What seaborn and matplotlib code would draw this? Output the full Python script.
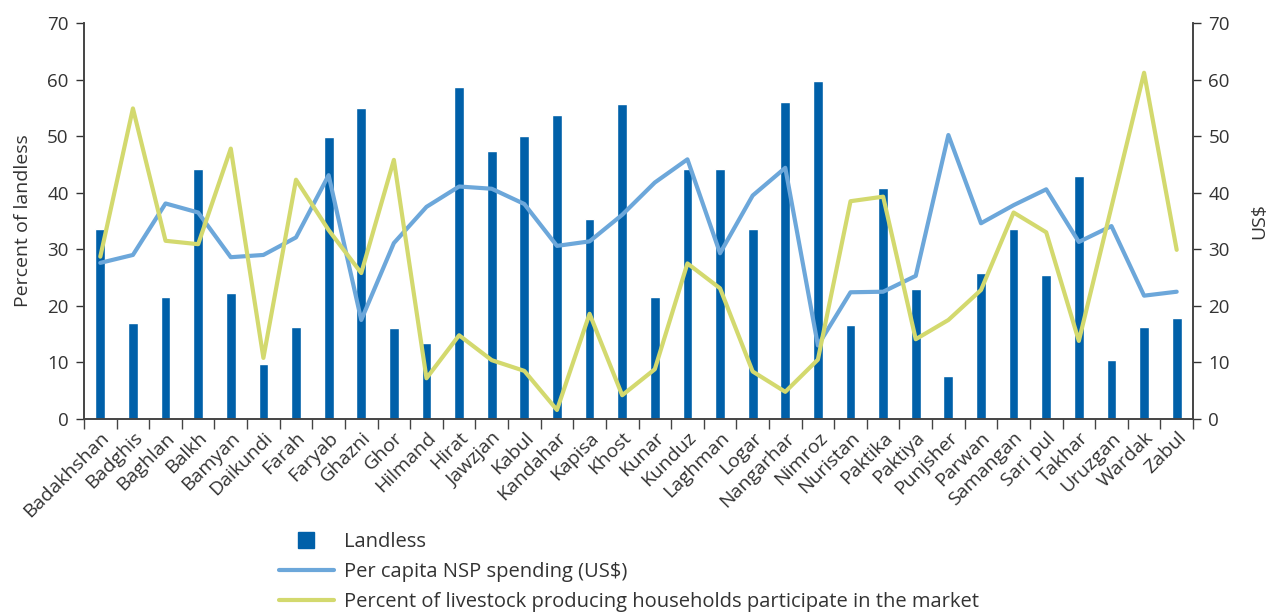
import numpy as np
import pandas as pd
import matplotlib
matplotlib.use("Agg")
import matplotlib.pyplot as plt
from matplotlib.lines import Line2D
import seaborn as sns

provinces = ["Badakhshan", "Badghis", "Baghlan", "Balkh", "Bamyan", "Daikundi", "Farah",
             "Faryab", "Ghazni", "Ghor", "Hilmand", "Hirat", "Jawzjan", "Kabul", "Kandahar",
             "Kapisa", "Khost", "Kunar", "Kunduz", "Laghman", "Logar", "Nangarhar", "Nimroz",
             "Nuristan", "Paktika", "Paktiya", "Punjsher", "Parwan", "Samangan", "Sari pul",
             "Takhar", "Uruzgan", "Wardak", "Zabul"]

landless = [33.6, 17.0, 21.6, 44.2, 22.3, 9.7, 16.3, 49.8, 55.0, 16.1, 13.4, 58.6, 47.4,
            50.1, 53.8, 35.4, 55.7, 21.6, 44.2, 44.2, 33.6, 56.1, 59.8, 16.6, 40.9, 23.0,
            7.6, 25.8, 33.6, 25.5, 43.0, 10.4, 16.3, 17.9]

nsp_spending = [27.6, 29.0, 38.1, 36.5, 28.6, 29.0, 32.1, 43.1, 17.5, 31.1, 37.5, 41.1, 40.7,
                38.0, 30.6, 31.4, 36.1, 41.8, 45.9, 29.3, 39.5, 44.4, 13.0, 22.4, 22.5, 25.3,
                50.2, 34.6, 37.8, 40.6, 31.3, 34.1, 21.8, 22.5]

livestock_market = [28.7, 54.9, 31.5, 30.9, 47.8, 10.8, 42.3, 33.4, 25.8, 45.8, 7.2, 14.8,
                    10.4, 8.5, 1.6, 18.6, 4.2, 8.8, 27.5, 23.1, 8.4, 4.8, 10.5, 38.5, 39.3,
                    14.1, 17.5, 22.8, 36.5, 33.0, 13.8, 37.5, 61.2, 29.9]

bar_color = "#0060A9"
nsp_color = "#6CA7DA"
live_color = "#D3D96E"
text_color = "#333333"

df = pd.DataFrame({"province": provinces, "landless": landless,
                   "nsp": nsp_spending, "livestock": livestock_market,
                   "pos": np.arange(len(provinces))})

sns.set_style("ticks")
plt.rcParams["font.family"] = ["Open Sans", "DejaVu Sans"]
plt.rcParams["text.color"] = text_color
plt.rcParams["axes.labelcolor"] = text_color
plt.rcParams["xtick.color"] = text_color
plt.rcParams["ytick.color"] = text_color

fig = plt.figure(figsize=(12.72, 6.16), dpi=100)
ax = fig.add_axes([84 / 1272, 1 - 419 / 616, (1193 - 84) / 1272, (419 - 23) / 616])

# bars on the left axis
sns.barplot(data=df, x="province", y="landless", color=bar_color, width=0.3,
            saturation=1, ax=ax)

# both lines on the twin axis (same 0-70 scale)
ax2 = ax.twinx()
sns.lineplot(data=df, x="pos", y="nsp", color=nsp_color, linewidth=3, ax=ax2)
sns.lineplot(data=df, x="pos", y="livestock", color=live_color, linewidth=3, ax=ax2)

for a in (ax, ax2):
    a.set_ylim(0, 70)
    a.set_yticks(range(0, 71, 10))
    a.tick_params(axis="y", labelsize=13.5, length=6, width=1, pad=5, colors=text_color)
    a.spines["top"].set_visible(False)
    for s in a.spines.values():
        s.set_color("#444444")
        s.set_linewidth(1.2)

ax.set_xlim(-0.5, len(provinces) - 0.5)
ax.set_xticks(np.arange(len(provinces)))
ax.set_xticklabels(provinces, rotation=45, ha="right", rotation_mode="anchor", fontsize=14)
ax.tick_params(axis="x", which="major", length=0, pad=7)
ax.set_xticks(np.arange(len(provinces) + 1) - 0.5, minor=True)
ax.tick_params(axis="x", which="minor", length=7, width=1, colors="#444444")
ax.set_xlabel("")
ax2.set_xlabel("")
ax.set_ylabel("Percent of landless", fontsize=14, labelpad=11)
ax2.set_ylabel("US$", fontsize=14, labelpad=15)
ax2.spines["right"].set_visible(True)

handles = [
    Line2D([], [], marker="s", linestyle="none", markersize=11, color=bar_color),
    Line2D([], [], color=nsp_color, linewidth=3),
    Line2D([], [], color=live_color, linewidth=3),
]
labels = ["Landless", "Per capita NSP spending (US$)",
          "Percent of livestock producing households participate in the market"]
fig.legend(handles, labels, loc="upper left", bbox_to_anchor=(279 / 1272, 1 - 532 / 616),
           frameon=False, fontsize=14.5, handlelength=2.73, handletextpad=0.5,
           labelspacing=0.5, borderpad=0, borderaxespad=0)

fig.savefig("out.png", dpi=100)
